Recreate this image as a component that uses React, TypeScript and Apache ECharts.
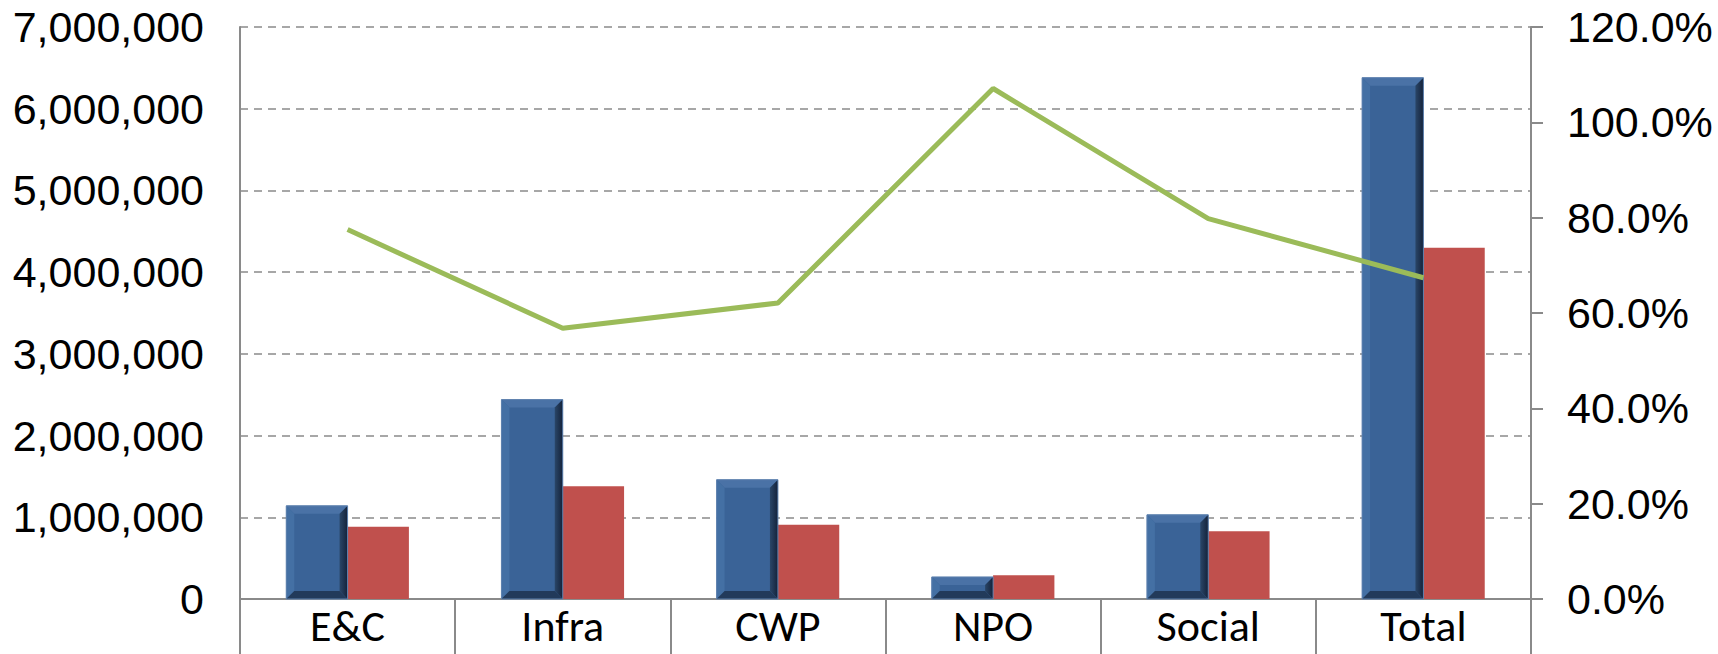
import React, { useEffect, useRef } from "react";
import * as echarts from "echarts";

const categories = ["E&C", "Infra", "CWP", "NPO", "Social", "Total"];
const blueValues = [1140000, 2440000, 1460000, 270000, 1030000, 6380000];
const redValues = [885000, 1380000, 910000, 290000, 830000, 4300000];
const ratioValues = [77.5, 56.8, 62.1, 107.1, 79.8, 67.4];
const leftTicks = [0, 1000000, 2000000, 3000000, 4000000, 5000000, 6000000, 7000000];
const rightTicks = [0, 20, 40, 60, 80, 100, 120];

const CAT_GAP = 0.43;

export default function App() {
  const ref = useRef<HTMLDivElement>(null);
  useEffect(() => {
    document.body.style.margin = "0";
    if (!ref.current) return;
    const chart = echarts.init(ref.current, null, { renderer: "svg" });
    const grey = "#8a8a8a";
    const numFont = "'Liberation Sans', Arial, sans-serif";
    const option: any = {
      animation: false,
      backgroundColor: "#ffffff",
      grid: { left: 240, right: 187, top: 27, bottom: 55, containLabel: false },
      xAxis: {
        type: "category",
        data: categories,
        boundaryGap: true,
        axisLine: { show: true, lineStyle: { color: grey, width: 2 } },
        axisTick: { show: true, interval: 0, length: 56, lineStyle: { color: grey, width: 2 } },
        axisLabel: {
          interval: 0,
          margin: 5,
          color: "#000",
          fontSize: 44,
          lineHeight: 44,
          fontFamily: "Carlito, Calibri, Lato, 'Open Sans', sans-serif",
        },
      },
      yAxis: [
        {
          type: "value",
          min: leftTicks[0],
          max: leftTicks[leftTicks.length - 1],
          interval: leftTicks[1] - leftTicks[0],
          axisLine: { show: true, lineStyle: { color: grey, width: 2 } },
          axisTick: { show: false },
          splitLine: { show: true, lineStyle: { color: grey, width: 1.5, type: [8, 6] } },
          axisLabel: {
            margin: 36,
            color: "#000",
            fontSize: 43,
            fontFamily: numFont,
            formatter: (v: number) => v.toLocaleString("en-US"),
          },
        },
        {
          type: "value",
          position: "right",
          min: rightTicks[0],
          max: rightTicks[rightTicks.length - 1],
          interval: rightTicks[1] - rightTicks[0],
          axisLine: { show: true, lineStyle: { color: grey, width: 2 } },
          axisTick: { show: true, inside: false, length: 12, lineStyle: { color: grey, width: 2 } },
          splitLine: { show: false },
          axisLabel: {
            margin: 36,
            color: "#000",
            fontSize: 43,
            fontFamily: numFont,
            formatter: (v: number) => v.toFixed(1) + "%",
          },
        },
      ],
      series: [
        {
          type: "bar",
          data: blueValues,
          barGap: "0%",
          barCategoryGap: CAT_GAP * 100 + "%",
          itemStyle: { color: "#3A6397" },
          z: 2,
        },
        {
          type: "bar",
          data: redValues,
          barGap: "0%",
          barCategoryGap: CAT_GAP * 100 + "%",
          itemStyle: { color: "#C0504D" },
          z: 2,
        },
        {
          type: "custom",
          data: blueValues.map((v, i) => [i, v]),
          z: 3,
          renderItem: (params: any, api: any) => {
            const i = api.value(0);
            const v = api.value(1);
            const top = api.coord([i, v]);
            const base = api.coord([i, 0]);
            const band = api.size([1, 0])[0];
            const w = (band * (1 - CAT_GAP)) / 2;
            const x1 = top[0];
            const x0 = x1 - w;
            const yt = top[1];
            const yb = base[1];
            const h = yb - yt;
            const b = Math.min(8, h / 2);
            return {
              type: "group",
              children: [
                {
                  type: "polygon",
                  shape: { points: [[x0, yt], [x1, yt], [x1 - b, yt + b], [x0 + b, yt + b]] },
                  style: { fill: "#4A72A6" },
                },
                {
                  type: "polygon",
                  shape: { points: [[x0, yt], [x0 + b, yt + b], [x0 + b, yb - b], [x0, yb]] },
                  style: { fill: "#4470A4" },
                },
                {
                  type: "polygon",
                  shape: { points: [[x1, yt], [x1, yb], [x1 - b, yb - b], [x1 - b, yt + b]] },
                  style: {
                    fill: new echarts.graphic.LinearGradient(0, 0, 1, 0, [
                      { offset: 0, color: "#2A4668" },
                      { offset: 1, color: "#14223A" },
                    ]),
                  },
                },
                {
                  type: "polygon",
                  shape: { points: [[x0, yb], [x0 + b, yb - b], [x1 - b, yb - b], [x1, yb]] },
                  style: { fill: "#223A5A" },
                },
                {
                  type: "rect",
                  shape: { x: x0, y: yt, width: w, height: h },
                  style: { fill: "none", stroke: "#5F82AF", lineWidth: 1 },
                },
              ],
            };
          },
        },
        {
          type: "line",
          yAxisIndex: 1,
          data: ratioValues,
          symbol: "none",
          lineStyle: { color: "#9BBB59", width: 5 },
          z: 5,
        },
      ],
    };
    chart.setOption(option);
    return () => chart.dispose();
  }, []);
  return <div ref={ref} style={{ width: 1718, height: 654 }} />;
}
